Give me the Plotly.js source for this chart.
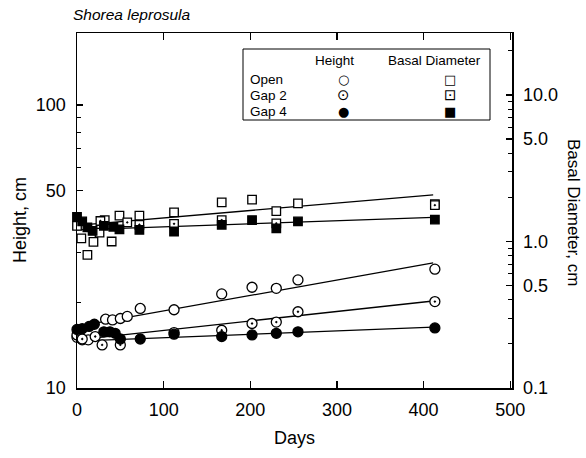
<!DOCTYPE html>
<html>
<head>
<meta charset="utf-8">
<script src="https://cdn.plot.ly/plotly-3.0.1.min.js"></script>
<style>html,body{margin:0;padding:0;background:#fff;}#chart{width:586px;height:458px;}</style>
</head>
<body>
<div id="chart"></div>
<script>
// ---- Data ----
// Height, cm (left axis)
const openHDays = [0, 6, 13, 33, 41, 50, 58, 73, 112, 167, 202, 230, 255, 413];
const openH     = [15.1, 14.8, 14.8, 17.5, 17.4, 17.6, 17.9, 19.1, 18.9, 21.5, 22.7, 22.5, 24.1, 26.3];
const gap2HDays = [0, 6, 21, 29, 50, 112, 167, 202, 230, 255, 413];
const gap2H     = [15.4, 14.9, 15.2, 14.2, 14.2, 15.7, 16.0, 16.9, 17.1, 18.6, 20.2];
const gap4HDays = [0, 6, 14, 20, 31, 38, 44, 50, 73, 112, 167, 202, 230, 255, 413];
const gap4H     = [16.1, 16.2, 16.5, 16.8, 15.8, 15.8, 15.6, 14.9, 14.9, 15.5, 15.2, 15.4, 15.6, 15.8, 16.3];
// Basal diameter, cm (right axis)
const openDDays = [0, 5, 12, 19, 26, 32, 40, 49, 72, 112, 167, 202, 230, 255, 413];
const openD     = [1.28, 1.05, 0.81, 0.995, 1.15, 1.40, 1.00, 1.50, 1.50, 1.58, 1.85, 1.93, 1.61, 1.82, 1.80];
const gap2DDays = [27, 58, 72, 112, 167, 230, 413];
const gap2D     = [1.38, 1.35, 1.30, 1.32, 1.40, 1.33, 1.77];
const gap4DDays = [0, 6, 12, 18, 31, 42, 49, 72, 112, 167, 202, 230, 255, 413];
const gap4D     = [1.47, 1.37, 1.25, 1.18, 1.28, 1.26, 1.21, 1.20, 1.17, 1.30, 1.40, 1.23, 1.37, 1.41];
// Fitted regression lines (start / end values)
const fitDays   = [0, 411];
const openHFit  = [16.5, 27.7];
const gap2HFit  = [14.8, 20.3];
const gap4HFit  = [14.65, 16.4];
const openDFit  = [1.29, 2.08];
const gap4DFit  = [1.20, 1.46];
// Tick labels
const xTicks = [0, 100, 200, 300, 400, 500];
const hTicks = [10, 50, 100];
const hTickText = ['10', '50', '100'];
const hMinor = [20, 30, 40, 60, 70, 80, 90];
const dTicks = [0.1, 0.5, 1, 5, 10];
const dTickText = ['0.1', '0.5', '1.0', '5.0', '10.0'];
const dMinor = [0.2, 0.3, 0.4, 0.6, 0.7, 0.8, 0.9, 2, 3, 4, 6, 7, 8, 9, 20];

const FONT = 'Liberation Sans, Arial, Helvetica, sans-serif';
const TICKSIZE = 18;
const ln = {color: 'black', width: 1.3};

function fit(y, axis) {
  return {x: fitDays, y: y, yaxis: axis, mode: 'lines', line: ln, hoverinfo: 'skip', cliponaxis: false};
}
function pts(x, y, axis, symbol, size, fill) {
  return {x: x, y: y, yaxis: axis, mode: 'markers', cliponaxis: false,
    marker: {symbol: symbol, size: size, color: fill, line: {color: 'black', width: 1.3}}};
}

const traces = [
  fit(openHFit, 'y'), fit(gap2HFit, 'y'), fit(gap4HFit, 'y'),
  fit(openDFit, 'y2'), fit(gap4DFit, 'y2'),
  pts(openHDays, openH, 'y', 'circle', 10, 'white'),
  pts(gap2HDays, gap2H, 'y', 'circle-dot', 10, 'white'),
  pts(gap4HDays, gap4H, 'y', 'circle', 10, 'black'),
  pts(openDDays, openD, 'y2', 'square', 8.5, 'white'),
  pts(gap2DDays, gap2D, 'y2', 'square-dot', 8.5, 'white'),
  pts(gap4DDays, gap4D, 'y2', 'square', 8.5, 'black')
];

// plot area geometry
const L = 77, R = 74, T = 33, B = 70, W = 586 - L - R, H = 458 - T - B;
const px = v => (v - L) / W;
const py = v => (458 - B - v) / H;

const legFont = {family: FONT, size: 13.5, color: 'black'};
const symFont = {family: 'DejaVu Sans', size: 13, color: 'black'};
const symFontBig = {family: 'DejaVu Sans', size: 15, color: 'black'};
function ann(text, x, y, font, xanchor) {
  return {text: text, xref: 'paper', yref: 'paper', x: px(x), y: py(y), showarrow: false,
    xanchor: xanchor || 'center', yanchor: 'middle', font: font};
}

const layout = {
  width: 586, height: 458,
  margin: {l: L, r: R, t: T, b: B},
  paper_bgcolor: 'white', plot_bgcolor: 'white',
  showlegend: false,
  font: {family: FONT, size: TICKSIZE, color: 'black'},
  title: {text: 'Shorea leprosula', font: {family: FONT, size: 15.5, style: 'italic', color: 'black'},
          x: 73 / 586, xanchor: 'left', xref: 'container', y: 1 - 15 / 458, yanchor: 'middle', yref: 'container'},
  xaxis: {range: [0, 502], tickvals: xTicks, ticks: 'inside', ticklen: 7, tickwidth: 1.2, tickcolor: 'black',
          showline: true, linecolor: 'black', linewidth: 1.5, mirror: 'ticks', showgrid: false, zeroline: false,
          ticklabelstandoff: 5, tickfont: {family: FONT, size: TICKSIZE},
          title: {text: 'Days', font: {family: FONT, size: 18}, standoff: 12}},
  yaxis: {type: 'log', range: [1, 2.2544], tickvals: hTicks, ticktext: hTickText,
          ticks: 'inside', ticklen: 6, tickwidth: 1.2, tickcolor: 'black',
          minor: {tickvals: hMinor, ticks: 'inside', ticklen: 4, tickcolor: 'black', tickwidth: 1, showgrid: false},
          showline: true, linecolor: 'black', linewidth: 1.5, showgrid: false, zeroline: false,
          ticklabelstandoff: 6, tickfont: {family: FONT, size: TICKSIZE}},
  yaxis2: {type: 'log', range: [-1, 1.423], overlaying: 'y', side: 'right',
          tickvals: dTicks, ticktext: dTickText,
          ticks: 'inside', ticklen: 6, tickwidth: 1.2, tickcolor: 'black',
          minor: {tickvals: dMinor, ticks: 'inside', ticklen: 4, tickcolor: 'black', tickwidth: 1, showgrid: false},
          showline: true, linecolor: 'black', linewidth: 1.5, showgrid: false, zeroline: false,
          ticklabelstandoff: 6, tickfont: {family: FONT, size: TICKSIZE}},
  shapes: [{type: 'rect', xref: 'paper', yref: 'paper', x0: px(243), x1: px(490), y0: py(120), y1: py(49),
            line: {color: 'black', width: 1}, fillcolor: 'white', layer: 'above'}],
  annotations: [
    ann('Height', 334, 60, legFont), ann('Basal Diameter', 434, 60, legFont),
    ann('Open', 248, 79, legFont, 'left'), ann('Gap 2', 248, 95, legFont, 'left'), ann('Gap 4', 248, 111, legFont, 'left'),
    ann('\u25CB', 343, 79, symFont), ann('\u2299', 343, 95, symFontBig), ann('\u25CF', 343, 111, symFont),
    ann('\u25A1', 450, 79, symFont), ann('\u22A1', 450, 95, symFontBig), ann('\u25A0', 450, 111, symFont),
    {text: 'Height, cm', xref: 'paper', yref: 'paper', x: px(20), y: py(220), showarrow: false,
     textangle: -90, xanchor: 'center', yanchor: 'middle', font: {family: FONT, size: 18, color: 'black'}},
    {text: 'Basal Diameter, cm', xref: 'paper', yref: 'paper', x: px(574), y: py(212), showarrow: false,
     textangle: 90, xanchor: 'center', yanchor: 'middle', font: {family: FONT, size: 17, color: 'black'}}
  ]
};

Plotly.newPlot('chart', traces, layout, {staticPlot: true, displayModeBar: false});
</script>
</body>
</html>
